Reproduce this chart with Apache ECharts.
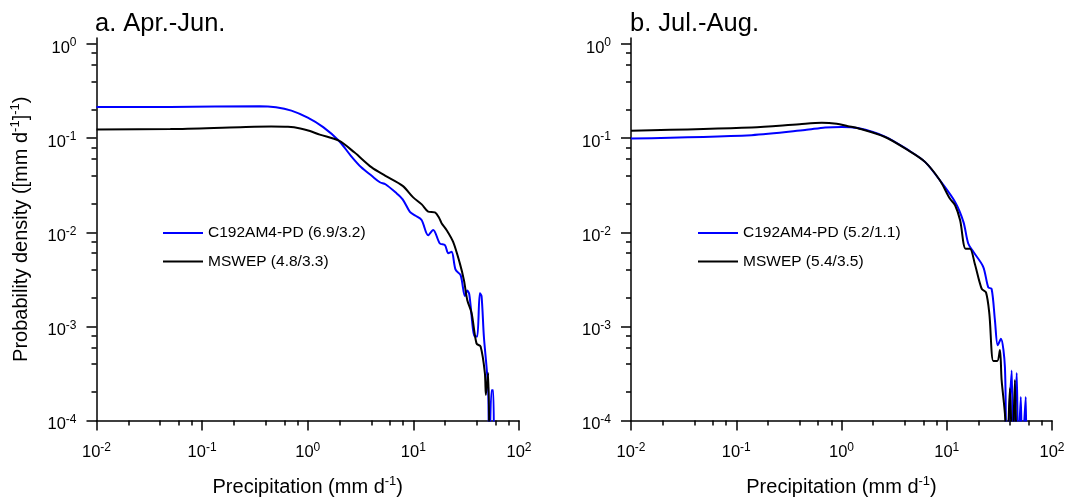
<!DOCTYPE html>
<html>
<head>
<meta charset="utf-8">
<script src="https://cdn.jsdelivr.net/npm/echarts@6/dist/echarts.min.js"></script>
<style>html,body{margin:0;padding:0;background:#fff}#c{width:1069px;height:498px}</style>
</head>
<body>
<div id="c"></div>
<script>
// ---------- data ----------
const panelTitles = ['a. Apr.-Jun.', 'b. Jul.-Aug.'];
const seriesNamesA = ['C192AM4-PD (6.9/3.2)', 'MSWEP (4.8/3.3)'];
const seriesNamesB = ['C192AM4-PD (5.2/1.1)', 'MSWEP (5.4/3.5)'];

const xTickValues = [0.01, 0.1, 1, 10, 100];
const yTickValues = [0.0001, 0.001, 0.01, 0.1, 1];
const minorMultipliers = [2, 4, 6, 8];

// Panel a, model (blue)
const aModelX = [0.01, 0.05, 0.35, 0.5, 0.7, 1.0, 1.40, 1.97, 2.56, 3.21, 4.03, 4.82, 5.44, 6.81, 7.92, 9.27, 10.5, 11.96, 13.8, 15.4, 17.8, 19.9, 21.4, 23.0, 25.1, 28.0, 30.8, 32.4, 33.8, 38.2, 40.2, 42.6, 44.2, 46.5, 49.3, 51.1, 52.3, 55.0, 57.0, 58.0];
const aModelY = [0.214, 0.215, 0.219, 0.213, 0.196, 0.165, 0.131, 0.094, 0.065, 0.049, 0.0398, 0.034, 0.0324, 0.0264, 0.0224, 0.0165, 0.015, 0.0135, 0.0093, 0.0106, 0.0076, 0.0073, 0.006, 0.0062, 0.004, 0.0035, 0.0021, 0.0024, 0.0022, 0.00078, 0.00078, 0.00225, 0.0021, 0.00078, 0.00037, 0.00021, 0.00004, 0.00021, 0.00021, 0.00004];
// Panel a, MSWEP (black)
const aObsX = [0.01, 0.05, 0.23, 0.45, 0.65, 0.85, 1.05, 1.30, 1.97, 2.76, 4.03, 5.44, 7.92, 9.96, 12.0, 13.8, 16.0, 17.5, 18.5, 20.6, 23.8, 27.5, 30.1, 32.4, 35.6, 39.6, 43.3, 47.5, 48.6, 51.1, 52.4];
const aObsY = [0.1235, 0.125, 0.131, 0.133, 0.132, 0.127, 0.119, 0.109, 0.094, 0.0707, 0.0489, 0.0398, 0.0311, 0.0235, 0.0198, 0.0166, 0.0163, 0.0143, 0.0125, 0.0106, 0.0079, 0.0047, 0.0031, 0.0019, 0.00138, 0.00066, 0.00061, 0.00032, 0.000187, 0.00032, 0.00004];
// Panel b, model (blue)
const bModelX = [0.01, 0.14, 0.45, 0.70, 1.0, 1.43, 2.59, 4.28, 6.21, 8.6, 12.0, 14.4, 16.0, 17.9, 22.2, 24.8, 26.7, 28.7, 30.5, 32.7, 35.7, 37.0, 41.4, 42.5, 46.2, 47.7, 50.5, 52.0, 56.3, 57.0];
const bModelY = [0.0993, 0.1077, 0.122, 0.13, 0.1318, 0.128, 0.104, 0.075, 0.056, 0.0357, 0.021, 0.0129, 0.0076, 0.0062, 0.0043, 0.0026, 0.0025, 0.00116, 0.00063, 0.00074, 0.00037, 0.00004, 0.00034, 0.00004, 0.00032, 0.00004, 0.000178, 0.00004, 0.000178, 0.00004];
// Panel b, MSWEP (black)
const bObsX = [0.01, 0.14, 0.40, 0.65, 0.9, 1.15, 1.43, 2.59, 4.28, 6.21, 8.6, 10.7, 12.0, 13.4, 15.1, 16.6, 18.5, 21.5, 23.6, 25.4, 27.7, 30.2, 32.0, 33.2, 35.7, 37.5, 39.8, 42.0, 44.4, 46.0];
const bObsY = [0.12, 0.13, 0.141, 0.1455, 0.142, 0.134, 0.1277, 0.103, 0.0745, 0.056, 0.0357, 0.0228, 0.0194, 0.0134, 0.0067, 0.0067, 0.0046, 0.0025, 0.0023, 0.00136, 0.00043, 0.00043, 0.00056, 0.00027, 0.000118, 0.00004, 0.00022, 0.00004, 0.00027, 0.00004];

// ---------- build ----------
const FONT = 'Liberation Sans, Arial, Helvetica, sans-serif';
const pairs = (xs, ys) => xs.map((x, i) => [x, ys[i]]);
function minorValues(ticks) {
  const out = [];
  for (let i = 0; i < ticks.length - 1; i++) minorMultipliers.forEach(m => out.push(ticks[i] * m));
  return out;
}
const powLabel = v => '{b|10}{s|' + Math.round(Math.log10(v)) + '}';
const labelRich = {
  b: { fontSize: 16.5, lineHeight: 22, fontFamily: FONT, color: '#000' },
  s: { fontSize: 12, lineHeight: 11, verticalAlign: 'top', fontFamily: FONT, color: '#000' }
};
const nameRich = {
  t: { fontSize: 20, lineHeight: 26, fontFamily: FONT, color: '#000' },
  s: { fontSize: 13, lineHeight: 14, verticalAlign: 'top', fontFamily: FONT, color: '#000' }
};
const axisLine = { show: true, lineStyle: { color: '#000', width: 1.5 } };

const grids = [
  { left: 96.5, right: 550, top: 38, bottom: 77.5, containLabel: false, outerBoundsMode: 'none' },
  { left: 631, right: 17, top: 38, bottom: 77.5, containLabel: false, outerBoundsMode: 'none' }
];
const xAxes = [], yAxes = [];
grids.forEach((g, gi) => {
  xAxes.push({
    type: 'log', logBase: 10, gridIndex: gi, min: 0.01, max: 100, position: 'bottom',
    axisLine, splitLine: { show: false },
    axisTick: { show: true, inside: false, length: 10, lineStyle: { color: '#000', width: 1.5 } },
    axisLabel: { formatter: powLabel, rich: labelRich, margin: 21, fontSize: 16.5, fontFamily: FONT, color: '#000' },
    name: '{t|Precipitation (mm d}{s|-1}{t|)}', nameLocation: 'middle', nameGap: 54,
    nameTextStyle: { rich: nameRich, fontSize: 20, fontFamily: FONT, color: '#000' }
  });
  xAxes.push({
    type: 'log', logBase: 10, gridIndex: gi, min: 0.01, max: 100, position: 'bottom',
    axisLine: { show: false }, splitLine: { show: false }, axisLabel: { show: false },
    axisTick: { show: true, inside: false, length: 5, customValues: minorValues(xTickValues), lineStyle: { color: '#000', width: 1.5 } }
  });
  yAxes.push({
    type: 'log', logBase: 10, gridIndex: gi, min: 0.0001, max: 1.16, position: 'left',
    axisLine, splitLine: { show: false },
    axisTick: { show: true, inside: false, length: 10, customValues: yTickValues, lineStyle: { color: '#000', width: 1.5 } },
    axisLabel: { formatter: powLabel, rich: labelRich, margin: 20, customValues: yTickValues, padding: [8, 0, 0, 0], fontSize: 16.5, fontFamily: FONT, color: '#000' },
    name: gi === 0 ? '{t|Probability density ([mm d}{s|-1}{t|]}{s|-1}{t|)}' : '',
    nameLocation: 'middle', nameRotate: 90, nameGap: 62,
    nameTextStyle: { rich: nameRich, fontSize: 20, fontFamily: FONT, color: '#000' }
  });
  yAxes.push({
    type: 'log', logBase: 10, gridIndex: gi, min: 0.0001, max: 1.16, position: 'left',
    axisLine: { show: false }, splitLine: { show: false }, axisLabel: { show: false },
    axisTick: { show: true, inside: false, length: 5, customValues: minorValues(yTickValues), lineStyle: { color: '#000', width: 1.5 } }
  });
});

function line(name, data, color, axis) {
  return {
    type: 'line', name, data, xAxisIndex: axis, yAxisIndex: axis,
    symbol: 'none', showSymbol: false, smooth: 0.3, clip: true,
    lineStyle: { color, width: 2 }, itemStyle: { color }
  };
}

const legendBase = {
  orient: 'vertical', padding: 0, itemWidth: 40, itemHeight: 16, itemGap: 12.5,
  icon: 'path://M0,0H40V2H0Z', symbolKeepAspect: true,
  textStyle: { fontSize: 15.5, fontFamily: FONT, color: '#000', lineHeight: 16 }
};

const option = {
  animation: false,
  backgroundColor: '#fff',
  textStyle: { fontFamily: FONT },
  title: [
    { text: panelTitles[0], left: 95, top: 11, padding: 0, textStyle: { fontSize: 25.5, fontWeight: 'normal', color: '#000', fontFamily: FONT } },
    { text: panelTitles[1], left: 630, top: 11, padding: 0, textStyle: { fontSize: 25.5, fontWeight: 'normal', color: '#000', fontFamily: FONT } }
  ],
  legend: [
    Object.assign({}, legendBase, { data: seriesNamesA, left: 163, top: 225 }),
    Object.assign({}, legendBase, { data: seriesNamesB, left: 698, top: 225 })
  ],
  grid: grids,
  xAxis: xAxes,
  yAxis: yAxes,
  series: [
    line(seriesNamesA[0], pairs(aModelX, aModelY), '#0000ff', 0),
    line(seriesNamesA[1], pairs(aObsX, aObsY), '#000000', 0),
    line(seriesNamesB[0], pairs(bModelX, bModelY), '#0000ff', 2),
    line(seriesNamesB[1], pairs(bObsX, bObsY), '#000000', 2)
  ]
};
const chart = echarts.init(document.getElementById('c'), null, { renderer: 'canvas' });
chart.setOption(option);
</script>
</body>
</html>
